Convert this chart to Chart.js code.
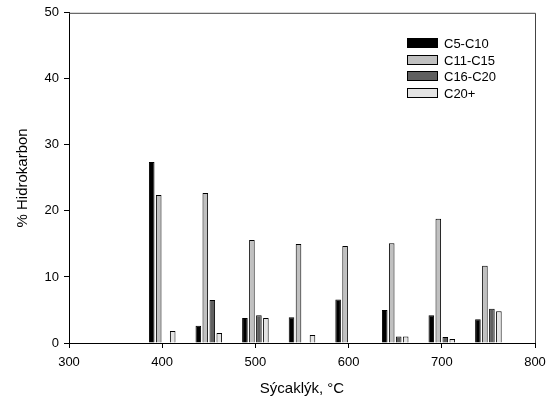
<!DOCTYPE html>
<html><head><meta charset="utf-8">
<script src="https://cdn.jsdelivr.net/npm/chart.js@4"></script>
<style>html,body{margin:0;padding:0;background:#fff}#wrap{width:554px;height:407px}</style>
</head><body><div id="wrap"><canvas id="c" width="554" height="407"></canvas></div>
<script>
const temperatures = [400, 450, 500, 550, 600, 650, 700, 750];
const seriesNames = ['C5-C10', 'C11-C15', 'C16-C20', 'C20+'];
const c5_c10  = [27.4, 2.6, 3.8, 3.9, 6.6, 5.0, 4.2, 3.6];
const c11_c15 = [22.4, 22.7, 15.6, 15.0, 14.7, 15.1, 18.8, 11.7];
const c16_c20 = [null, 6.5, 4.2, null, null, 1.0, 0.9, 5.2];
const c20plus = [1.8, 1.5, 3.8, 1.2, null, 1.0, 0.6, 4.8];
const xTicks = [300, 400, 500, 600, 700, 800];
const yTicks = [0, 10, 20, 30, 40, 50];

const FONT = '"Liberation Sans", Arial, sans-serif';
const colors = ['#000000', '#c0c0c0', '#606060', '#e4e4e4'];
const seriesValues = [c5_c10, c11_c15, c16_c20, c20plus];

const datasets = seriesNames.map((name, i) => ({
  label: name,
  data: temperatures.map((t, j) => ({ x: t, y: seriesValues[i][j] })),
  backgroundColor: colors[i],
  borderColor: '#000',
  borderWidth: 1,
  categoryPercentage: 0.6,
  barPercentage: 0.8
}));

const framePlugin = {
  id: 'frame',
  afterDraw(chart) {
    const { ctx, chartArea: a } = chart;
    ctx.save();
    ctx.strokeStyle = '#444';
    ctx.lineWidth = 1;
    ctx.beginPath();
    ctx.moveTo(a.left, a.top + 0.5);
    ctx.lineTo(a.right + 0.5, a.top + 0.5);
    ctx.lineTo(a.right + 0.5, a.bottom);
    ctx.stroke();
    // legend
    const LX = 407, LY = 43, DY = 16.5;
    ctx.font = '13px ' + FONT;
    ctx.textBaseline = 'middle';
    ctx.textAlign = 'left';
    chart.data.datasets.forEach((ds, i) => {
      const y = Math.round(LY + i * DY);
      ctx.fillStyle = ds.backgroundColor;
      ctx.fillRect(LX, y - 5, 31, 10);
      ctx.strokeStyle = '#000';
      ctx.strokeRect(LX + 0.5, y - 4.5, 30, 9);
      ctx.fillStyle = '#000';
      ctx.fillText(ds.label, LX + 37, y + 1);
    });
    ctx.restore();
  }
};

new Chart(document.getElementById('c'), {
  type: 'bar',
  data: { datasets },
  plugins: [framePlugin],
  options: {
    responsive: false,
    animation: false,
    layout: { padding: { left: 0, top: 9, right: 19, bottom: 0 } },
    plugins: { legend: { display: false }, tooltip: { enabled: false } },
    scales: {
      x: {
        type: 'linear',
        min: 300, max: 800,
        offset: false,
        afterBuildTicks: s => { s.ticks = xTicks.map(v => ({ value: v })); },
        afterFit: s => { s.height = 64; },
        grid: { display: true, offset: false, drawOnChartArea: false, drawTicks: true, tickLength: 5, color: '#000' },
        border: { display: true, color: '#000' },
        ticks: { color: '#000', font: { family: FONT, size: 13 }, padding: 7, maxRotation: 0 },
        title: { display: true, text: 'Sýcaklýk, °C', color: '#000', font: { family: FONT, size: 15 }, padding: { top: 0, bottom: 9 } }
      },
      y: {
        min: 0, max: 50,
        afterBuildTicks: s => { s.ticks = yTicks.map(v => ({ value: v })); },
        afterFit: s => { s.width = 69; },
        grid: { display: true, offset: false, drawOnChartArea: false, drawTicks: true, tickLength: 5, color: '#000' },
        border: { display: true, color: '#000' },
        ticks: { color: '#000', font: { family: FONT, size: 13 }, padding: 5 },
        title: { display: true, text: '% Hidrokarbon', color: '#000', font: { family: FONT, size: 15 }, padding: { top: 14, bottom: 0 } }
      }
    }
  }
});
</script>
</body></html>
